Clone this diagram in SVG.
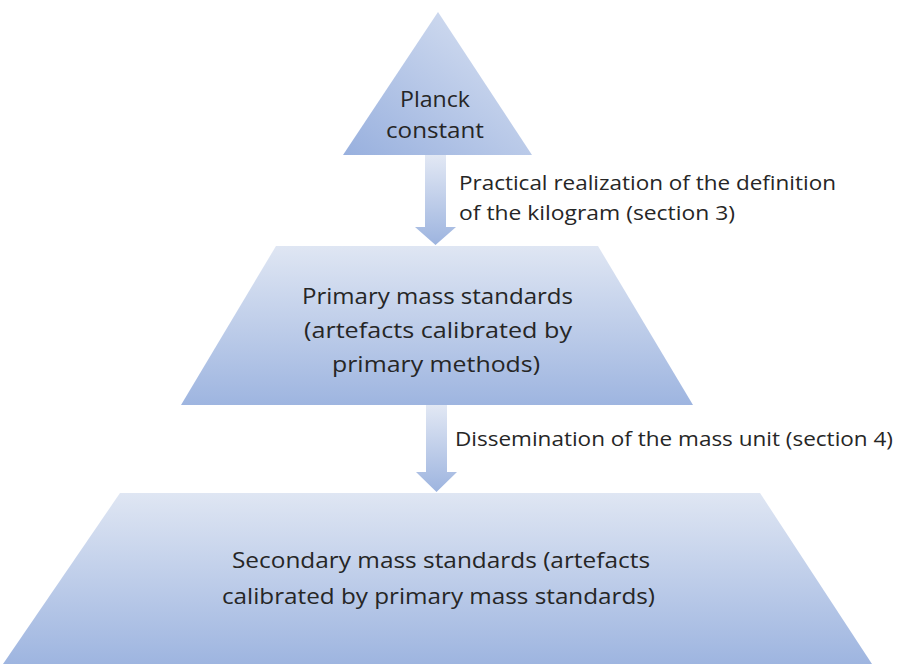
<svg xmlns="http://www.w3.org/2000/svg" width="897" height="664" viewBox="0 0 897 664">
<defs>
<linearGradient id="gTri" x1="0" y1="1" x2="1" y2="0">
<stop offset="0" stop-color="#98b0de"/>
<stop offset="1" stop-color="#dce4f3"/>
</linearGradient>
<linearGradient id="gV" x1="0" y1="0" x2="0" y2="1">
<stop offset="0" stop-color="#dfe6f3"/>
<stop offset="1" stop-color="#9eb5e0"/>
</linearGradient>
<linearGradient id="gArr" x1="0" y1="0" x2="0" y2="1">
<stop offset="0" stop-color="#e2e8f4"/>
<stop offset="1" stop-color="#9db4df"/>
</linearGradient>
<style>
.t{font-family:"Open Sans","Noto Sans","Liberation Sans",sans-serif;fill:#262626;}
.c{text-anchor:middle;font-size:22px;}
.l{font-size:20px;}
</style>
</defs>
<rect width="897" height="664" fill="#ffffff"/>
<g id="connectors">
<path d="M425,155 H446 V227 H456 L435.5,245 L415,227 H425 Z" fill="url(#gArr)"/>
<path d="M426,405 H447 V472 H457 L436.5,492 L416,472 H426 Z" fill="url(#gArr)"/>
<text class="t l" x="459" y="190" textLength="377" lengthAdjust="spacingAndGlyphs">Practical realization of the definition</text>
<text class="t l" x="459" y="220" textLength="276" lengthAdjust="spacingAndGlyphs">of the kilogram (section 3)</text>
<text class="t l" x="455" y="446" textLength="438" lengthAdjust="spacingAndGlyphs">Dissemination of the mass unit (section 4)</text>
</g>
<g id="planck">
<polygon points="438,12 532,155 343,155" fill="url(#gTri)"/>
<text class="t c" x="435" y="107" textLength="70" lengthAdjust="spacingAndGlyphs">Planck</text>
<text class="t c" x="435" y="138" textLength="98" lengthAdjust="spacingAndGlyphs">constant</text>
</g>
<g id="primary">
<polygon points="276,246 598,246 693,405 181,405" fill="url(#gV)"/>
<text class="t c" x="437.5" y="304" textLength="271" lengthAdjust="spacingAndGlyphs">Primary mass standards</text>
<text class="t c" x="438" y="338" textLength="268" lengthAdjust="spacingAndGlyphs">(artefacts calibrated by</text>
<text class="t c" x="436" y="372" textLength="208" lengthAdjust="spacingAndGlyphs">primary methods)</text>
</g>
<g id="secondary">
<polygon points="120,493 760,493 872,664 3,664" fill="url(#gV)"/>
<text class="t c" x="441" y="568" textLength="418" lengthAdjust="spacingAndGlyphs">Secondary  mass standards (artefacts</text>
<text class="t c" x="438.5" y="604" textLength="433" lengthAdjust="spacingAndGlyphs">calibrated by primary mass standards)</text>
</g>
</svg>
